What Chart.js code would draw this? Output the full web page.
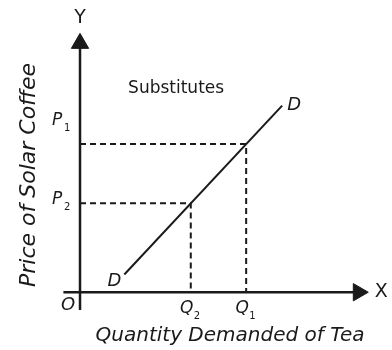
<!DOCTYPE html>
<html>
<head>
<meta charset="utf-8">
<script src="https://cdn.jsdelivr.net/npm/chart.js@4.4.0/dist/chart.umd.min.js"></script>
<style>
  html, body { margin: 0; padding: 0; background: #fff; }
  #wrap { width: 392px; height: 350px; }
</style>
</head>
<body>
<div id="wrap"><canvas id="demandChart" width="392" height="350"></canvas></div>
<script>
// cross-price demand: price of coffee vs quantity of tea
const priceNames = ['P', 'P'];
const priceSubs = ['1', '2'];
const priceValues = [5, 3];
const quantityNames = ['Q', 'Q'];
const quantitySubs = ['1', '2'];
const quantityValues = [6, 4];
const demandQty = [1.6, 7.3];
const demandPrice = [0.6, 6.3];
const xRange = [-0.6, 10.4];
const yRange = [-0.6, 8.75];
const xAxisEnd = 10.05;
const yAxisEnd = 8.4;

const ink = '#1a1a1a';
const handFont = '"DejaVu Sans", sans-serif';

const guideData = (q, p) => [{x: 0, y: p}, {x: q, y: p}, {x: q, y: 0}];

const datasets = [
  {
    // x axis with arrowhead
    data: [{x: xRange[0], y: 0}, {x: xAxisEnd, y: 0}],
    borderColor: ink, backgroundColor: ink, borderWidth: 2.5,
    pointRadius: [0, 10], pointStyle: 'triangle', pointRotation: 90,
    pointBorderWidth: 1
  },
  {
    // y axis with arrowhead
    data: [{x: 0, y: yRange[0]}, {x: 0, y: yAxisEnd}],
    borderColor: ink, backgroundColor: ink, borderWidth: 2.5,
    pointRadius: [0, 10], pointStyle: 'triangle', pointRotation: 0,
    pointBorderWidth: 1
  },
  {
    // demand curve D-D
    data: demandQty.map((q, i) => ({x: q, y: demandPrice[i]})),
    borderColor: ink, borderWidth: 2, pointRadius: 0
  }
];

priceValues.forEach((p, i) => {
  datasets.push({
    data: guideData(quantityValues[i], p),
    borderColor: ink, borderWidth: 2, borderDash: [6, 4], pointRadius: 0
  });
});

const labelPlugin = {
  id: 'diagramLabels',
  afterDatasetsDraw(chart) {
    const {ctx, scales: {x, y}} = chart;
    const ox = x.getPixelForValue(0);
    const oy = y.getPixelForValue(0);

    function text(str, px, py, size, opts = {}) {
      ctx.font = (opts.italic ? 'italic ' : '') + size + 'px ' + handFont;
      ctx.textAlign = opts.align || 'center';
      ctx.textBaseline = 'middle';
      ctx.fillText(str, px, py);
    }
    function subscripted(main, sub, px, py) {
      text(main, px, py, 17, {italic: true});
      text(sub, px + 7, py + 8, 10, {align: 'left'});
    }

    ctx.save();
    ctx.fillStyle = ink;

    text('Y', ox, 18, 19);
    text('X', x.getPixelForValue(xAxisEnd) + 23, oy, 19);
    text('O', ox - 12, oy + 13, 18, {italic: true});

    priceValues.forEach((p, i) => {
      const py = y.getPixelForValue(p);
      const lift = i === 0 ? -24 : -4;
      subscripted(priceNames[i], priceSubs[i], ox - 23, py + lift);
    });
    quantityValues.forEach((q, i) => {
      subscripted(quantityNames[i], quantitySubs[i], x.getPixelForValue(q) - 4, oy + 16);
    });

    const d0x = x.getPixelForValue(demandQty[0]);
    const d0y = y.getPixelForValue(demandPrice[0]);
    const d1x = x.getPixelForValue(demandQty[1]);
    const d1y = y.getPixelForValue(demandPrice[1]);
    text('D', d0x - 10, d0y + 7, 18, {italic: true});
    text('D', d1x + 12, d1y, 18, {italic: true});

    text('Substitutes', x.getPixelForValue(3.47), y.getPixelForValue(6.86), 17);

    text('Quantity Demanded of Tea', 230, 336, 20, {italic: true});
    ctx.translate(29, 175);
    ctx.rotate(-Math.PI / 2);
    text('Price of Solar Coffee', 0, 0, 22, {italic: true});
    ctx.restore();
  }
};

new Chart(document.getElementById('demandChart'), {
  type: 'scatter',
  data: {datasets: datasets.map(d => Object.assign({showLine: true, clip: false}, d))},
  options: {
    responsive: false,
    animation: false,
    layout: {
      padding: {left: 63.4, right: 24, top: 33, bottom: 40}
    },
    scales: {
      x: {type: 'linear', min: xRange[0], max: xRange[1], display: false},
      y: {type: 'linear', min: yRange[0], max: yRange[1], display: false}
    },
    plugins: {
      legend: {display: false},
      tooltip: {enabled: false}
    }
  },
  plugins: [labelPlugin]
});
</script>
</body>
</html>
